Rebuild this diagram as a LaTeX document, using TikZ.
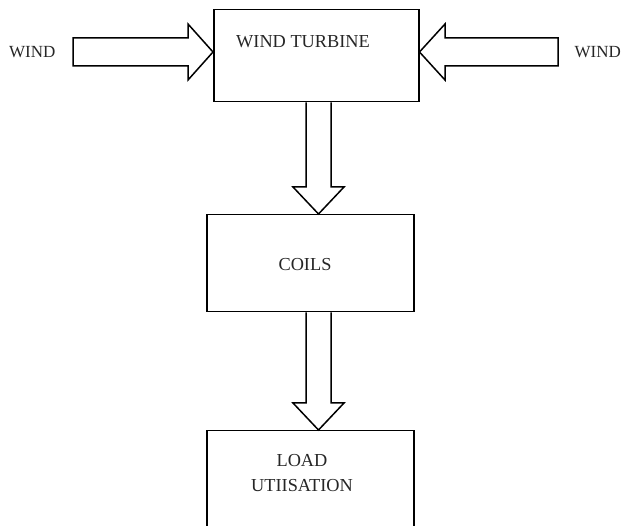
\documentclass[tikz,border=0pt]{standalone}
\usepackage{fontspec}
\setmainfont{Liberation Serif}
\usetikzlibrary{calc}
\begin{document}
\begin{tikzpicture}[x=1pt,y=-1pt,
  box/.style={draw,line width=1.5pt,rectangle,inner sep=0pt,anchor=north west},
  blockarrow/.style={draw,line width=1.5pt,fill=white,line join=miter},
  lbl/.style={font=\fontsize{18.3}{22}\selectfont,inner sep=0pt,text=black!85},
  windlbl/.style={font=\fontsize{17}{20}\selectfont,inner sep=0pt,text=black!85}]
\useasboundingbox (0,0) rectangle (625,526);
\clip (0,0) rectangle (625,526);
% boxes
\node[box,minimum width=205pt,minimum height=92pt] (tb) at (213,9) {};
\node[box,minimum width=207pt,minimum height=97pt] (coils) at (206,214) {};
\node[box,minimum width=207pt,minimum height=110pt] (load) at (206,430) {};
% labels
\node[lbl] (tbt) at (303,42) {WIND TURBINE};
\node[lbl] (ct) at (305,265) {COILS};
\node[lbl,align=center] (lt) at (302,473) {LOAD\\[3pt]UTIISATION};
\node[windlbl,anchor=west] (wl) at (9,52) {WIND};
\node[windlbl,anchor=east] (wr) at (621,52) {WIND};
% left wind arrow
\coordinate (lt1) at (tb.west |- 0,52);
\draw[blockarrow] (73,38) -- (188,38) -- (188,24) -- (lt1) -- (188,80) -- (188,66) -- (73,66) -- cycle;
% right wind arrow
\coordinate (rt1) at (tb.east |- 0,52);
\draw[blockarrow] (558,38) -- (445,38) -- (445,24) -- (rt1) -- (445,80) -- (445,66) -- (558,66) -- cycle;
% down arrow 1
\coordinate (d1) at (318.5,0 |- coils.north);
\draw[blockarrow] (306,0 |- tb.south) -- (306,187) -- (293,187) -- (d1) -- (344,187) -- (331,187) -- (331,0 |- tb.south);
% down arrow 2
\coordinate (d2) at (318.5,0 |- load.north);
\draw[blockarrow] (306,0 |- coils.south) -- (306,403) -- (293,403) -- (d2) -- (344,403) -- (331,403) -- (331,0 |- coils.south);
\end{tikzpicture}
\end{document}
